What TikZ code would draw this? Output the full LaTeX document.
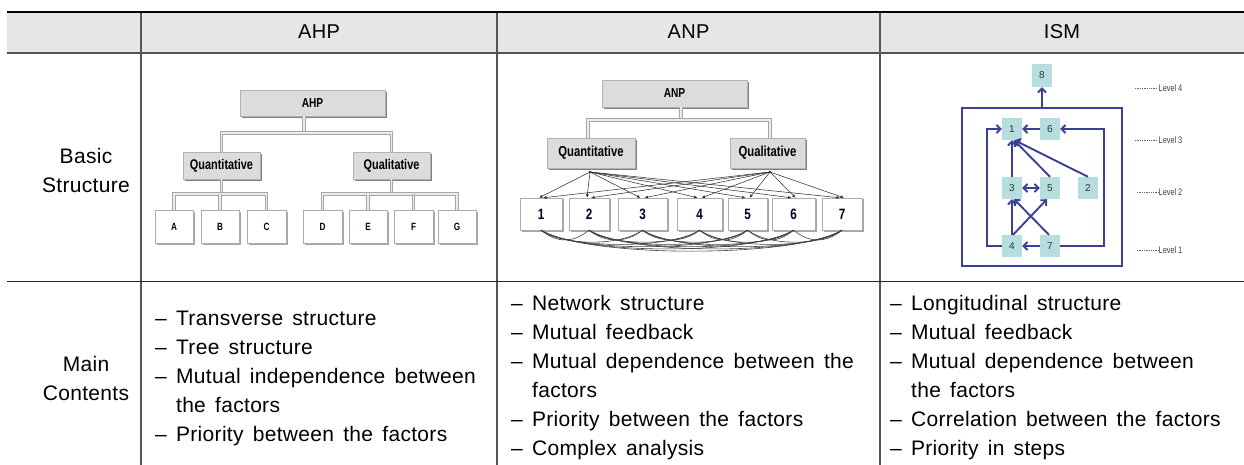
\documentclass[tikz,border=0pt]{standalone}
\usepackage{fontspec}
\setmainfont{Liberation Sans}
\newfontfamily\tablefont{Liberation Sans}[WordSpace=1.5, LetterSpace=1.5]
\newfontfamily\boxfont{Liberation Sans}[FakeStretch=0.78]
\usetikzlibrary{arrows.meta,shadows}
\definecolor{headfill}{HTML}{E6E6E6}
\definecolor{boxgray}{HTML}{DCDCDC}
\definecolor{ismblue}{HTML}{3C3F98}
\definecolor{ismteal}{HTML}{B6DEDE}
\definecolor{rulegray}{HTML}{555555}
\tikzset{
  cell/.style={font=\tablefont\fontsize{21}{29}\selectfont, inner sep=0pt},
  listtext/.style={cell, align=left, anchor=west},
  graybox/.style={draw=gray!60, fill=boxgray, inner sep=0pt,
    drop shadow={shadow xshift=1.6pt, shadow yshift=-1.8pt, fill=black!50, opacity=1},
    font=\boxfont\bfseries\fontsize{14}{14}\selectfont},
  leafbox/.style={draw=gray!65, fill=white, inner sep=0pt,
    drop shadow={shadow xshift=1.5pt, shadow yshift=-1.5pt, fill=black!35, opacity=1},
    font=\boxfont\bfseries\fontsize{10.5}{10.5}\selectfont, text=black!85!blue},
  numbox/.style={leafbox, font=\boxfont\bfseries\fontsize{15}{15}\selectfont},
  treeline/.style={draw=gray!70, line width=1.1pt, double=gray!15, double distance=1.6pt},
  anparrow/.style={draw=black!80, line width=0.55pt, -{Latex[length=3.5pt,width=3pt]}},
  anparc/.style={draw=black!75, line width=0.6pt},
  ismbox/.style={fill=ismteal, inner sep=0pt, minimum width=20pt, minimum height=22pt,
    font=\fontsize{10}{10}\selectfont, text=black!80},
  ismline/.style={draw=ismblue, line width=1.9pt},
  ismarrow/.style={ismline, -{Straight Barb[length=4pt,width=8pt]}},
  levellabel/.style={font=\boxfont\fontsize{9.5}{9.5}\selectfont, text=black!75, inner sep=0.5pt, anchor=west},
  leveldash/.style={draw=black!60, line width=0.6pt, dash pattern=on 1.3pt off 1pt},
}
\begin{document}
\begin{tikzpicture}[x=1pt,y=-1pt]
\useasboundingbox (0,0) rectangle (1244,465);

% ---------- table frame ----------
\fill[headfill] (7,12) rectangle (1244,53);
\draw[rulegray, line width=1.4pt] (141,12) -- (141,465);
\draw[rulegray, line width=1.4pt] (497,12) -- (497,465);
\draw[rulegray, line width=1.4pt] (880,12) -- (880,465);
\draw[black, line width=2.6pt] (7,12) -- (1244,12);
\draw[rulegray, line width=1.5pt] (7,53) -- (1244,53);
\draw[black!85, line width=1pt] (7,281) -- (1244,281);

% ---------- header row ----------
\node[cell, font=\tablefont\fontsize{20}{24}\selectfont] (hahp) at (319,32) {AHP};
\node[cell, font=\tablefont\fontsize{20}{24}\selectfont] (hanp) at (688.5,32) {ANP};
\node[cell, font=\tablefont\fontsize{20}{24}\selectfont] (hism) at (1062,32) {ISM};

% ---------- row labels ----------
\node[cell, align=center] (basic) at (86,170) {Basic\\Structure};
\node[cell, align=center] (mainc) at (86,378) {Main\\Contents};

% ---------- main contents lists ----------
\node[listtext] (lahp) at (155,378) {%
– Transverse structure\\
– Tree structure\\
– Mutual independence between\\
\phantom{– }the factors\\
– Priority between the factors};
\node[listtext] (lanp) at (511,377.5) {%
– Network structure\\
– Mutual feedback\\
– Mutual dependence between the\\
\phantom{– }factors\\
– Priority between the factors\\
– Complex analysis};
\node[listtext] (lism) at (890,377.5) {%
– Longitudinal structure\\
– Mutual feedback\\
– Mutual dependence between\\
\phantom{– }the factors\\
– Correlation between the factors\\
– Priority in steps};

% ---------- AHP hierarchy ----------
\node[graybox, minimum width=145pt, minimum height=26pt, font=\boxfont\bfseries\fontsize{13}{13}\selectfont] (ahp) at (312.5,103) {AHP};
\node[graybox, minimum width=77pt, minimum height=27pt] (quant) at (221.5,165.5) {Quantitative};
\node[graybox, minimum width=77pt, minimum height=27pt] (qual) at (391.5,165.5) {Qualitative};
\foreach \n/\x/\w in {A/174/38, B/220/38, C/266.5/39, D/322.5/39, E/368/38, F/413.5/39, G/457/38}
  \node[leafbox, minimum width=\w pt, minimum height=33pt] (\n) at (\x,226.5) {\n};
\coordinate (ahpbus) at (304,133);
\coordinate (quantbus) at (221.5,194);
\coordinate (qualbus) at (391.5,194);
\draw[treeline] (ahp.south -| ahpbus) -- (ahpbus);
\draw[treeline] (quant.north) |- (ahpbus) -| (qual.north);
\draw[treeline] (quant.south) -- (quantbus);
\draw[treeline] (A.north) |- (quantbus) -| (C.north);
\draw[treeline] (B.north) -- (B.north |- quantbus);
\draw[treeline] (qual.south) -- (qualbus);
\draw[treeline] (D.north) |- (qualbus) -| (G.north);
\draw[treeline] (E.north) -- (E.north |- qualbus);
\draw[treeline] (F.north) -- (F.north |- qualbus);

% ---------- ANP network ----------
\node[graybox, minimum width=145pt, minimum height=27pt, font=\boxfont\bfseries\fontsize{13}{13}\selectfont] (anp) at (674.5,93.5) {ANP};
\node[graybox, minimum width=88pt, minimum height=30pt, font=\boxfont\bfseries\fontsize{14.5}{14.5}\selectfont] (aquant) at (591,153) {Quantitative};
\node[graybox, minimum width=75pt, minimum height=30pt, font=\boxfont\bfseries\fontsize{14.5}{14.5}\selectfont] (aqual) at (767.5,153) {Qualitative};
\foreach \i/\x/\w in {1/541/42, 2/589/40, 3/642.5/49, 4/699.5/45, 5/747.5/39, 6/793.5/43, 7/842/40}
  \node[numbox, minimum width=\w pt, minimum height=32pt] (n\i) at (\x,214) {\i};
\coordinate (anpbus) at (681,120);
\draw[treeline] (anp.south -| anpbus) -- (anpbus);
\draw[treeline] ([xshift=-3pt]aquant.north) |- (anpbus) -| ([xshift=2.5pt]aqual.north);
\coordinate (qhub) at (590,172);
\coordinate (lhub) at (770,172);
\fill[black!80] (qhub) circle (1.4pt) (lhub) circle (1.4pt);
\foreach \i in {1,...,7} {
  \draw[anparrow] (qhub) -- ([xshift=-2pt]n\i.north);
  \draw[anparrow] (lhub) -- ([xshift=2pt]n\i.north);
}
\foreach \i in {1,...,6} {
  \pgfmathtruncatemacro\s{\i+1}
  \foreach \j in {\s,...,7} {
    \pgfmathsetmacro\h{10+3*(\j-\i)}
    \pgfmathsetmacro\d{10+6*(\j-\i)}
    \draw[anparc] (n\i.south) .. controls +(\d,\h) and +(-\d,\h) .. (n\j.south);
  }
}

% ---------- ISM levels ----------
\node[draw=ismblue, line width=1.9pt, minimum width=160pt, minimum height=158pt, inner sep=0pt] (outer) at (1042,187) {};
\node[ismbox, minimum height=23pt] (m8) at (1042,75.5) {8};
\node[ismbox] (m1) at (1012,129) {1};
\node[ismbox] (m6) at (1050,129) {6};
\node[ismbox] (m3) at (1012,188) {3};
\node[ismbox] (m5) at (1050,188) {5};
\node[ismbox] (m2) at (1088,188) {2};
\node[ismbox] (m4) at (1012,246) {4};
\node[ismbox] (m7) at (1050,246) {7};
\coordinate (lcorner) at (987,129);
\coordinate (rcorner) at (1104,129);
\draw[ismarrow] (outer.north -| m8) -- (m8.south);
\draw[ismarrow] (m6.west) -- (m1.east);
\draw[ismarrow] (m3.north) -- (m1.south);
\draw[ismarrow] (m5.north) -- ([xshift=2pt]m1.south);
\draw[ismarrow] (m2.north) -- ([xshift=2.5pt]m1.south);
\draw[ismarrow, {Straight Barb[length=4pt,width=8pt]}-{Straight Barb[length=4pt,width=8pt]}] (m3.east) -- (m5.west);
\draw[ismarrow] (m4.north) -- (m3.south);
\draw[ismarrow] ([xshift=1pt]m4.north) -- ([xshift=-3pt]m5.south);
\draw[ismarrow] ([xshift=-1pt]m7.north) -- ([xshift=2pt]m3.south);
\draw[ismarrow] (m7.west) -- (m4.east);
\draw[ismarrow] (m4.west) -| (lcorner) -- (m1.west);
\draw[ismarrow] (m7.east) -| (rcorner) -- (m6.east);

\foreach \k/\y/\e in {4/88/1135, 3/140/1135, 2/192/1137, 1/250/1137} {
  \node[levellabel] (lv\k) at (1158,\y) {Level\,\k};
  \coordinate (ld\k) at (\e,\y);
  \draw[leveldash] (ld\k) -- (lv\k.west);
}
\end{tikzpicture}
\end{document}
